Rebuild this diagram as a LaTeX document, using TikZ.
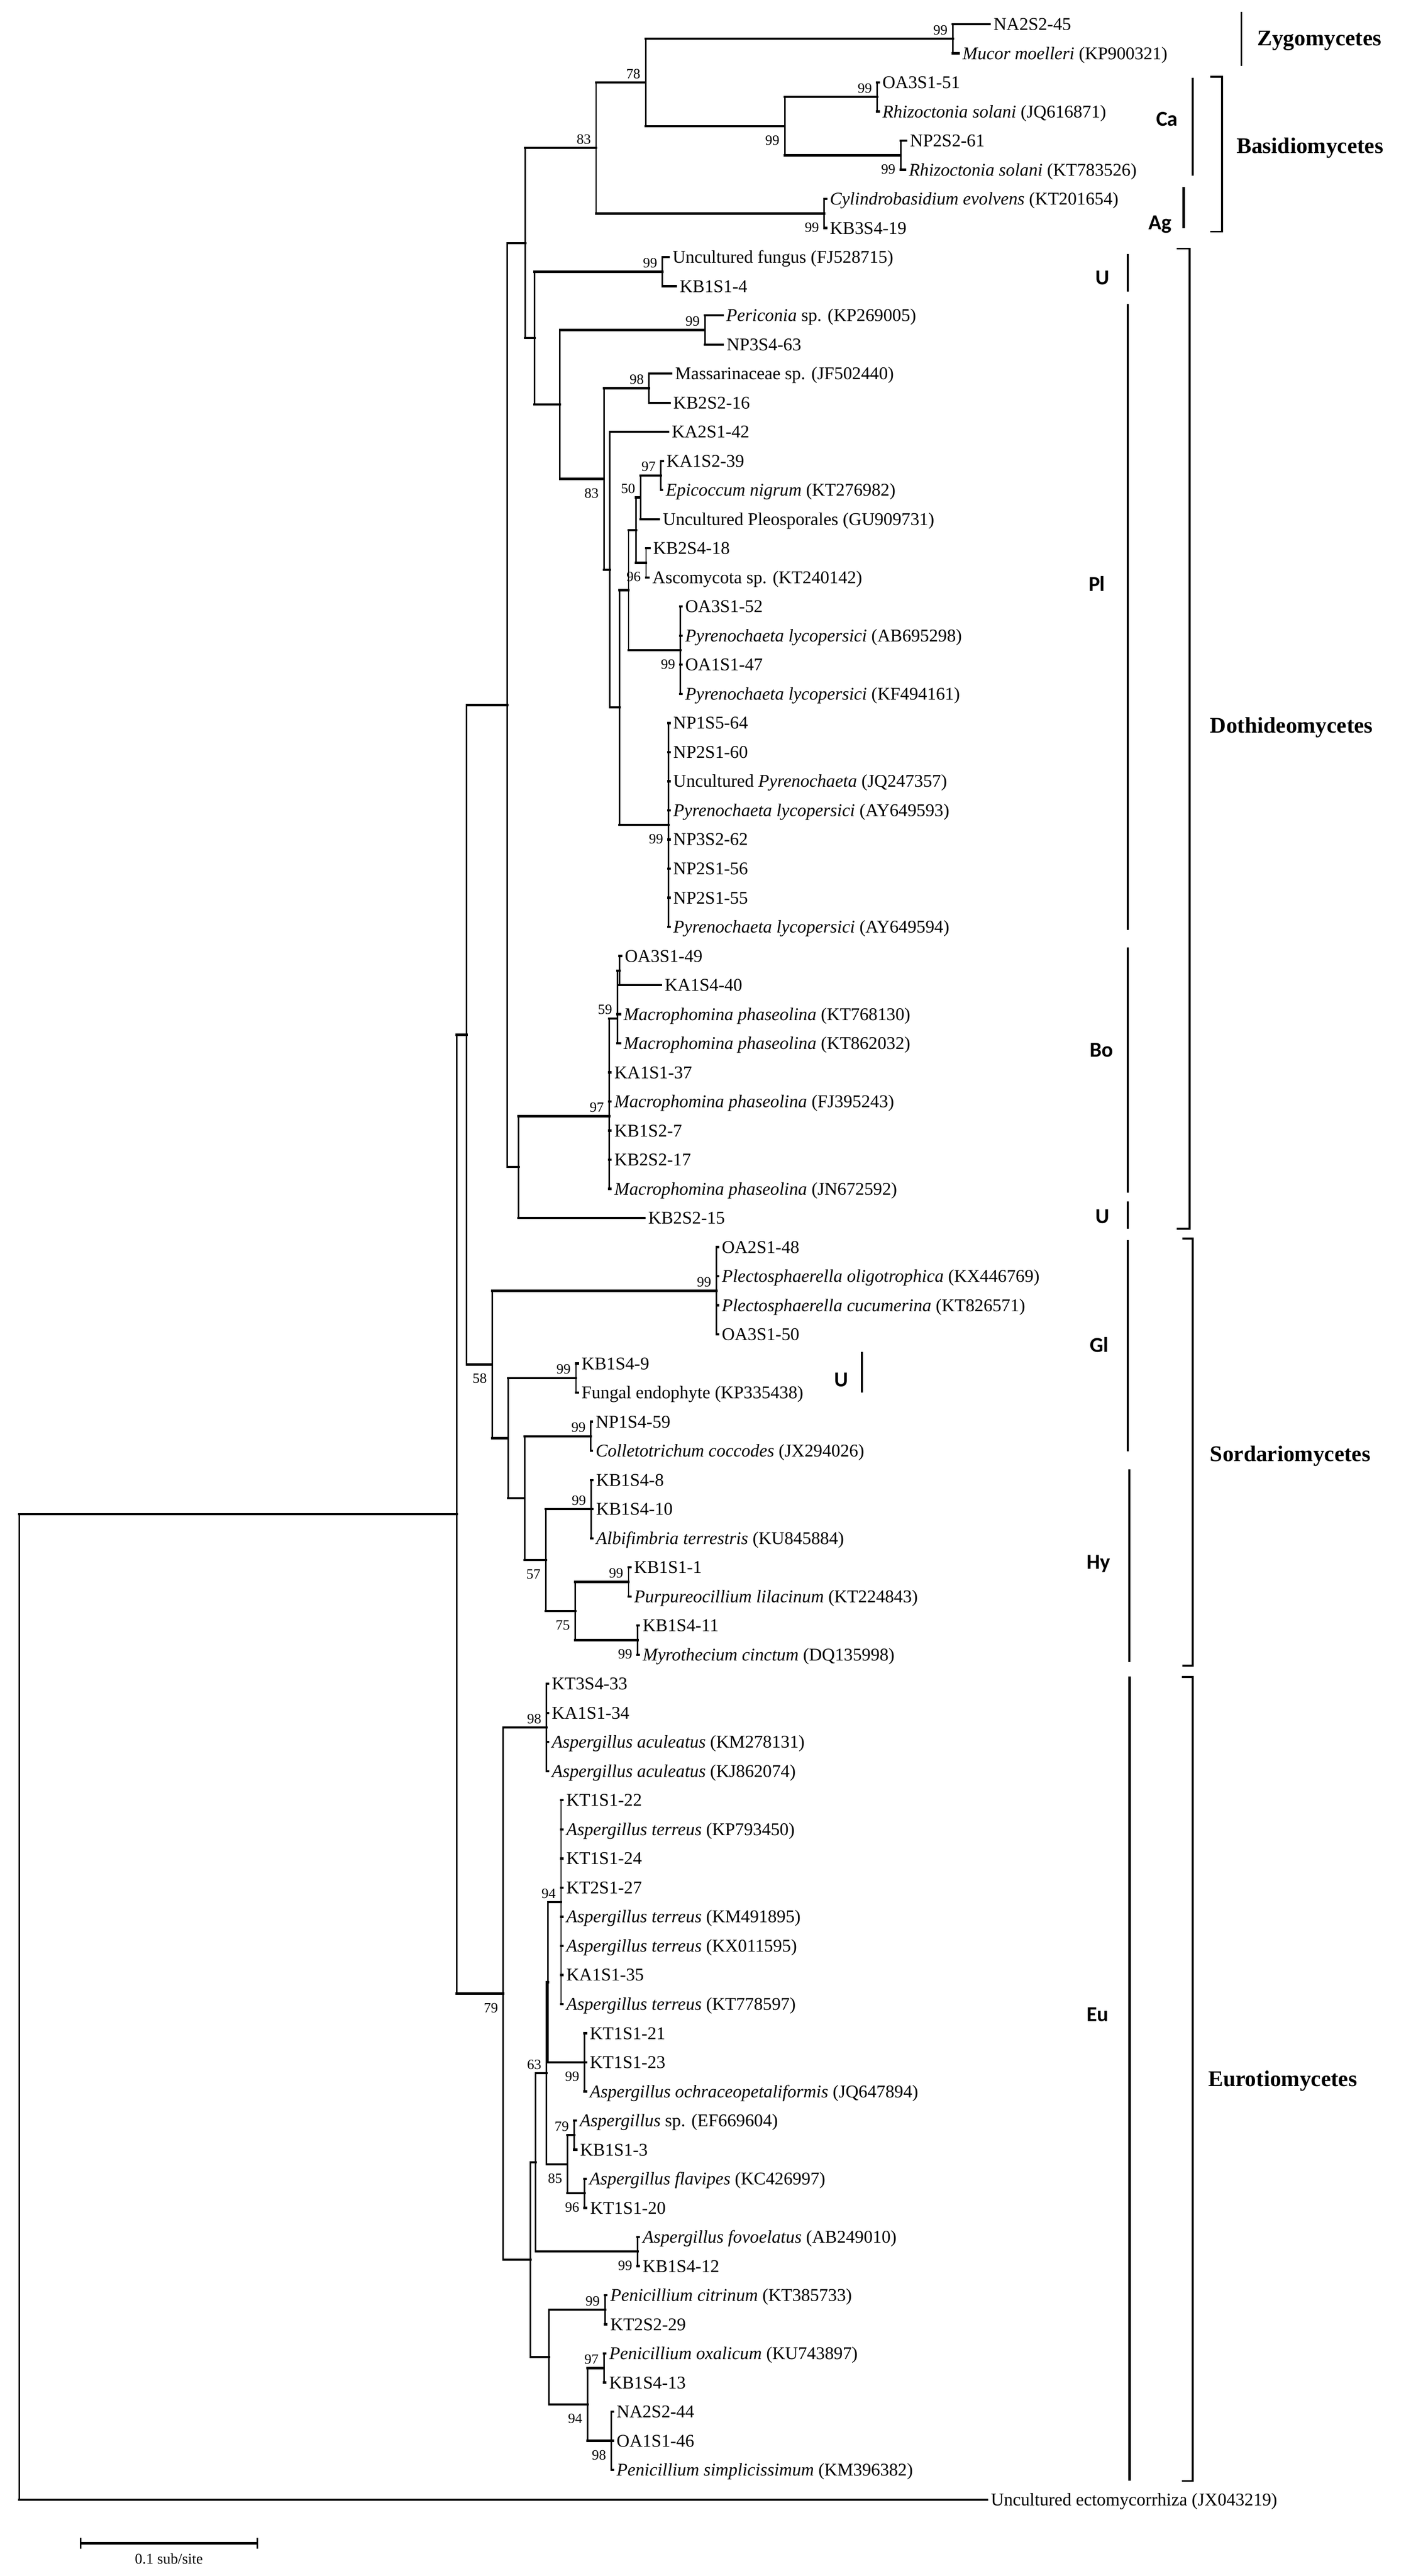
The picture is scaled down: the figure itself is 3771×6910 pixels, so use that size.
\documentclass[tikz,border=0pt]{standalone}
\usepackage{fontspec}
\setmainfont{Liberation Serif}
\newfontfamily\cfont{Carlito}
\usetikzlibrary{calc}
\tikzset{
  vert/.style={line width=4pt, line cap=rect},
  horiz/.style={line width=6pt, line cap=rect},
  leaf/.style={anchor=base west, inner sep=0pt, xshift=10pt, yshift=-16pt, font=\fontsize{48}{50}\selectfont},
  bsa/.style={anchor=east, inner sep=0pt, xshift=-14pt, yshift=23.5pt, font=\fontsize{38}{40}\selectfont},
  bsb/.style={anchor=east, inner sep=0pt, xshift=-14pt, yshift=-38pt, font=\fontsize{38}{40}\selectfont},
  cls/.style={anchor=base west, inner sep=0pt, yshift=-20pt, font=\fontsize{60}{62}\selectfont\bfseries},
  sub/.style={anchor=base west, inner sep=0pt, yshift=-18pt, font=\cfont\fontsize{57}{60}\selectfont\bfseries},
  cl/.style={line width=6pt},
  thincl/.style={line width=4pt},
  brk/.style={line width=5pt},
}
\newcommand\lf[4]{\coordinate (#1) at (#2,{-(65+(#3-1)*78.1)});\node[leaf] (#1t) at (#1) {#4};}
\newcommand\nd[4]{\path let \p1=(#3), \p2=(#4) in (#2pt,{0.5*\y1+0.5*\y2}) coordinate (#1);}
\newcommand\br[2]{\draw[vert] (#1) -- (#1 |- #2);\draw[horiz] (#1 |- #2) -- (#2);}
\newcommand\bsA[2]{\node[bsa] (b#1) at (#1) {#2};}
\newcommand\bsB[2]{\node[bsb] (b#1) at (#1) {#2};}
\begin{document}
\begin{tikzpicture}[x=1pt,y=1pt]
\useasboundingbox (0,0) rectangle (3771,-6910);
% ---------------- leaves
\lf{L1}{2655}{1}{NA2S2-45}
\lf{L2}{2572}{2}{\textit{Mucor moelleri} (KP900321)}
\lf{L3}{2357}{3}{OA3S1-51}
\lf{L4}{2357}{4}{\textit{Rhizoctonia solani} (JQ616871)}
\lf{L5}{2431}{5}{NP2S2-61}
\lf{L6}{2428}{6}{\textit{Rhizoctonia solani} (KT783526)}
\lf{L7}{2216}{7}{\textit{Cylindrobasidium evolvens} (KT201654)}
\lf{L8}{2216}{8}{KB3S4-19}
\lf{L9}{1794}{9}{Uncultured fungus (FJ528715)}
\lf{L10}{1813}{10}{KB1S1-4}
\lf{L11}{1938}{11}{\textit{Periconia} sp. (KP269005)}
\lf{L12}{1939}{12}{NP3S4-63}
\lf{L13}{1801}{13}{Massarinaceae sp. (JF502440)}
\lf{L14}{1796}{14}{KB2S2-16}
\lf{L15}{1792}{15}{KA2S1-42}
\lf{L16}{1778}{16}{KA1S2-39}
\lf{L17}{1776}{17}{\textit{Epicoccum nigrum} (KT276982)}
\lf{L18}{1768}{18}{Uncultured Pleosporales (GU909731)}
\lf{L19}{1742}{19}{KB2S4-18}
\lf{L20}{1740}{20}{Ascomycota sp. (KT240142)}
\lf{L21}{1828}{21}{OA3S1-52}
\lf{L22}{1828}{22}{\textit{Pyrenochaeta lycopersici} (AB695298)}
\lf{L23}{1828}{23}{OA1S1-47}
\lf{L24}{1828}{24}{\textit{Pyrenochaeta lycopersici} (KF494161)}
\lf{L25}{1796}{25}{NP1S5-64}
\lf{L26}{1796}{26}{NP2S1-60}
\lf{L27}{1796}{27}{Uncultured \textit{Pyrenochaeta} (JQ247357)}
\lf{L28}{1796}{28}{\textit{Pyrenochaeta lycopersici} (AY649593)}
\lf{L29}{1796}{29}{NP3S2-62}
\lf{L30}{1796}{30}{NP2S1-56}
\lf{L31}{1796}{31}{NP2S1-55}
\lf{L32}{1796}{32}{\textit{Pyrenochaeta lycopersici} (AY649594)}
\lf{L33}{1666}{33}{OA3S1-49}
\lf{L34}{1773}{34}{KA1S4-40}
\lf{L35}{1663}{35}{\textit{Macrophomina phaseolina} (KT768130)}
\lf{L36}{1663}{36}{\textit{Macrophomina phaseolina} (KT862032)}
\lf{L37}{1638}{37}{KA1S1-37}
\lf{L38}{1638}{38}{\textit{Macrophomina phaseolina} (FJ395243)}
\lf{L39}{1638}{39}{KB1S2-7}
\lf{L40}{1638}{40}{KB2S2-17}
\lf{L41}{1638}{41}{\textit{Macrophomina phaseolina} (JN672592)}
\lf{L42}{1729}{42}{KB2S2-15}
\lf{L43}{1926}{43}{OA2S1-48}
\lf{L44}{1926}{44}{\textit{Plectosphaerella oligotrophica} (KX446769)}
\lf{L45}{1926}{45}{\textit{Plectosphaerella cucumerina} (KT826571)}
\lf{L46}{1926}{46}{OA3S1-50}
\lf{L47}{1550}{47}{KB1S4-9}
\lf{L48}{1550}{48}{Fungal endophyte (KP335438)}
\lf{L49}{1588}{49}{NP1S4-59}
\lf{L50}{1588}{50}{\textit{Colletotrichum coccodes} (JX294026)}
\lf{L51}{1589}{51}{KB1S4-8}
\lf{L52}{1589}{52}{KB1S4-10}
\lf{L53}{1589}{53}{\textit{Albifimbria terrestris} (KU845884)}
\lf{L54}{1691}{54}{KB1S1-1}
\lf{L55}{1691}{55}{\textit{Purpureocillium lilacinum} (KT224843)}
\lf{L56}{1714}{56}{KB1S4-11}
\lf{L57}{1714}{57}{\textit{Myrothecium cinctum} (DQ135998)}
\lf{L58}{1470}{58}{KT3S4-33}
\lf{L59}{1470}{59}{KA1S1-34}
\lf{L60}{1470}{60}{\textit{Aspergillus aculeatus} (KM278131)}
\lf{L61}{1470}{61}{\textit{Aspergillus aculeatus} (KJ862074)}
\lf{L62}{1509}{62}{KT1S1-22}
\lf{L63}{1509}{63}{\textit{Aspergillus terreus} (KP793450)}
\lf{L64}{1509}{64}{KT1S1-24}
\lf{L65}{1509}{65}{KT2S1-27}
\lf{L66}{1509}{66}{\textit{Aspergillus terreus} (KM491895)}
\lf{L67}{1509}{67}{\textit{Aspergillus terreus} (KX011595)}
\lf{L68}{1509}{68}{KA1S1-35}
\lf{L69}{1509}{69}{\textit{Aspergillus terreus} (KT778597)}
\lf{L70}{1572}{70}{KT1S1-21}
\lf{L71}{1572}{71}{KT1S1-23}
\lf{L72}{1572}{72}{\textit{Aspergillus ochraceopetaliformis} (JQ647894)}
\lf{L73}{1545}{73}{\textit{Aspergillus} sp. (EF669604)}
\lf{L74}{1546}{74}{KB1S1-3}
\lf{L75}{1571}{75}{\textit{Aspergillus flavipes} (KC426997)}
\lf{L76}{1573}{76}{KT1S1-20}
\lf{L77}{1714}{77}{\textit{Aspergillus fovoelatus} (AB249010)}
\lf{L78}{1714}{78}{KB1S4-12}
\lf{L79}{1627}{79}{\textit{Penicillium citrinum} (KT385733)}
\lf{L80}{1627}{80}{KT2S2-29}
\lf{L81}{1624}{81}{\textit{Penicillium oxalicum} (KU743897)}
\lf{L82}{1624}{82}{KB1S4-13}
\lf{L83}{1644}{83}{NA2S2-44}
\lf{L84}{1644}{84}{OA1S1-46}
\lf{L85}{1644}{85}{\textit{Penicillium simplicissimum} (KM396382)}
\coordinate (L86) at (2648,-6705);
\node[leaf] (L86t) at (L86) {Uncultured ectomycorrhiza (JX043219)};
% ---------------- internal nodes
\nd{Zy}{2556}{L1}{L2}
\nd{CaA}{2353}{L3}{L4}
\nd{CaB}{2416}{L5}{L6}
\nd{Ca}{2105}{CaA}{CaB}
\nd{G}{1732}{Zy}{Ca}
\nd{Ag}{2211}{L7}{L8}
\nd{E}{1599}{G}{Ag}
\nd{Ua}{1777}{L9}{L10}
\nd{Peri}{1891}{L11}{L12}
\nd{Mass}{1741}{L13}{L14}
\nd{P}{1773}{L16}{L17}
\nd{O}{1718}{P}{L18}
\nd{Q}{1733}{L19}{L20}
\nd{N}{1706}{O}{Q}
\nd{PyA}{1825}{L21}{L24}
\nd{M}{1686}{N}{PyA}
\nd{PyB}{1793}{L25}{L32}
\nd{Ln}{1662}{M}{PyB}
\nd{J}{1636}{L15}{Ln}
\nd{I}{1620}{Mass}{J}
\nd{H}{1502}{Peri}{I}
\nd{F}{1434}{Ua}{H}
\nd{D}{1409}{E}{F}
\nd{BoC}{1662}{L33}{L34}
\coordinate (BoB) at (1656,-2732);
\coordinate (Bo) at (1634,-2994);
\nd{BoU}{1391}{Bo}{L42}
\nd{C}{1361}{D}{BoU}
\nd{Gl}{1922}{L43}{L46}
\nd{Ub}{1545}{L47}{L48}
\nd{Col}{1585}{L49}{L50}
\nd{Alb}{1586}{L51}{L53}
\nd{Pur}{1686}{L54}{L55}
\nd{MyB}{1710}{L56}{L57}
\nd{Myr}{1543}{Pur}{MyB}
\nd{Hy}{1464}{Alb}{Myr}
\nd{S3}{1407}{Col}{Hy}
\nd{S2}{1363}{Ub}{S3}
\nd{Sord}{1320}{Gl}{S2}
\nd{B}{1252}{C}{Sord}
\nd{Acu}{1466}{L58}{L61}
\nd{Ter}{1505}{L62}{L69}
\nd{Och}{1568}{L70}{L72}
\nd{X}{1470}{Ter}{Och}
\nd{Sp}{1540}{L73}{L74}
\nd{Fla}{1568}{L75}{L76}
\nd{SF}{1522}{Sp}{Fla}
\nd{EuD}{1466}{X}{SF}
\nd{Fov}{1710}{L77}{L78}
\nd{EuC}{1437}{EuD}{Fov}
\nd{Cit}{1623}{L79}{L80}
\nd{Oxa}{1620}{L81}{L82}
\nd{Sim}{1640}{L83}{L85}
\nd{PenB}{1576}{Oxa}{Sim}
\nd{Pen}{1473}{Cit}{PenB}
\nd{EuB}{1423}{EuC}{Pen}
\nd{Eu}{1350}{Acu}{EuB}
\nd{A}{1225}{B}{Eu}
\nd{R}{52}{A}{L86}
% ---------------- branches
\br{R}{A} \br{R}{L86}
\br{A}{B} \br{A}{Eu}
\br{B}{C} \br{B}{Sord}
\br{C}{D} \br{C}{BoU}
\br{D}{E} \br{D}{F}
\br{E}{G} \br{E}{Ag}
\br{G}{Zy} \br{G}{Ca}
\br{Zy}{L1} \br{Zy}{L2}
\br{Ca}{CaA} \br{Ca}{CaB}
\br{CaA}{L3} \br{CaA}{L4}
\br{CaB}{L5} \br{CaB}{L6}
\br{Ag}{L7} \br{Ag}{L8}
\br{F}{Ua} \br{F}{H}
\br{Ua}{L9} \br{Ua}{L10}
\br{H}{Peri} \br{H}{I}
\br{Peri}{L11} \br{Peri}{L12}
\br{I}{Mass} \br{I}{J}
\br{Mass}{L13} \br{Mass}{L14}
\br{J}{L15} \br{J}{Ln}
\br{Ln}{M} \br{Ln}{PyB}
\br{M}{N} \br{M}{PyA}
\br{N}{O} \br{N}{Q}
\br{O}{P} \br{O}{L18}
\br{P}{L16} \br{P}{L17}
\br{Q}{L19} \br{Q}{L20}
\foreach \k in {21,...,24} {\br{PyA}{L\k}}
\foreach \k in {25,...,32} {\br{PyB}{L\k}}
\br{BoU}{Bo} \br{BoU}{L42}
\br{Bo}{BoB}
\foreach \k in {37,...,41} {\br{Bo}{L\k}}
\br{BoB}{BoC} \br{BoB}{L35} \br{BoB}{L36}
\br{BoC}{L33} \br{BoC}{L34}
\br{Sord}{Gl} \br{Sord}{S2}
\foreach \k in {43,...,46} {\br{Gl}{L\k}}
\br{S2}{Ub} \br{S2}{S3}
\br{Ub}{L47} \br{Ub}{L48}
\br{S3}{Col} \br{S3}{Hy}
\br{Col}{L49} \br{Col}{L50}
\br{Hy}{Alb} \br{Hy}{Myr}
\foreach \k in {51,...,53} {\br{Alb}{L\k}}
\br{Myr}{Pur} \br{Myr}{MyB}
\br{Pur}{L54} \br{Pur}{L55}
\br{MyB}{L56} \br{MyB}{L57}
\br{Eu}{Acu} \br{Eu}{EuB}
\foreach \k in {58,...,61} {\br{Acu}{L\k}}
\br{EuB}{EuC} \br{EuB}{Pen}
\br{EuC}{EuD} \br{EuC}{Fov}
\br{EuD}{X} \br{EuD}{SF}
\br{X}{Ter} \br{X}{Och}
\foreach \k in {62,...,69} {\br{Ter}{L\k}}
\foreach \k in {70,...,72} {\br{Och}{L\k}}
\br{SF}{Sp} \br{SF}{Fla}
\br{Sp}{L73} \br{Sp}{L74}
\br{Fla}{L75} \br{Fla}{L76}
\br{Fov}{L77} \br{Fov}{L78}
\br{Pen}{Cit} \br{Pen}{PenB}
\br{Cit}{L79} \br{Cit}{L80}
\br{PenB}{Oxa} \br{PenB}{Sim}
\br{Oxa}{L81} \br{Oxa}{L82}
\foreach \k in {83,...,85} {\br{Sim}{L\k}}
% ---------------- bootstrap values
\bsA{E}{83} \bsA{G}{78} \bsA{Zy}{99} \bsA{CaA}{99} \bsA{Ua}{99}
\bsA{Peri}{99} \bsA{Mass}{98} \bsA{P}{97} \bsA{O}{50} \bsA{BoB}{59}
\bsA{Bo}{97} \bsA{Gl}{99} \bsA{Ub}{99} \bsA{Col}{99} \bsA{Alb}{99}
\bsA{Pur}{99} \bsA{Acu}{98} \bsA{Ter}{94} \bsA{EuD}{63} \bsA{Sp}{79}
\bsA{Cit}{99} \bsA{Oxa}{97}
\bsB{Ca}{99} \bsB{CaB}{99} \bsB{Ag}{99} \bsB{I}{83} \bsB{Q}{96}
\bsB{PyA}{99} \bsB{PyB}{99} \bsB{Sord}{58} \bsB{Hy}{57} \bsB{Myr}{75}
\bsB{MyB}{99} \bsB{Eu}{79} \bsB{Och}{99} \bsB{SF}{85} \bsB{Fla}{96}
\bsB{Fov}{99} \bsB{PenB}{94} \bsB{Sim}{98}
% ---------------- clade marks
\draw[thincl] (3330,-32) -- (3330,-177);
\node[cls] (zyg) at (3372,-103) {Zygomycetes};
\draw[brk] (3246,-206) -| (3278,-621) -- (3246,-621);
\node[cls] (bas) at (3317,-391) {Basidiomycetes};
\draw[cl] (3199,-208) -- (3199,-471);
\node[sub] (sCa) at (3101,-320) {Ca};
\draw[cl] (3175,-501) -- (3175,-612);
\node[sub] (sAg) at (3081,-598) {Ag};
\draw[cl] (3025,-681) -- (3025,-782);
\node[sub] (sU1) at (2939,-746) {U};
\draw[cl] (3025,-816) -- (3025,-2495);
\node[sub] (sPl) at (2920,-1568) {Pl};
\draw[brk] (3156,-667) -| (3191,-3296) -- (3156,-3296);
\node[cls] (dot) at (3246,-1946) {Dothideomycetes};
\draw[cl] (3025,-2541) -- (3025,-3199);
\node[sub] (sBo) at (2923,-2817) {Bo};
\draw[cl] (3025,-3223) -- (3025,-3296);
\node[sub] (sU2) at (2939,-3264) {U};
\draw[cl] (3025,-3327) -- (3025,-3893);
\node[sub] (sGl) at (2923,-3609) {Gl};
\draw[cl] (2312,-3626) -- (2312,-3735);
\node[sub] (sU3) at (2238,-3701) {U};
\draw[cl] (3029,-3941) -- (3029,-4458);
\node[sub] (sHy) at (2915,-4191) {Hy};
\draw[brk] (3172,-3322) -| (3199,-4468) -- (3172,-4468);
\node[cls] (sor) at (3246,-3900) {Sordariomycetes};
\draw[cl] (3030,-4497) -- (3030,-6654);
\node[sub] (sEu) at (2915,-5404) {Eu};
\draw[brk] (3170,-4498) -| (3199,-6655) -- (3170,-6655);
\node[cls] (eur) at (3241,-5576) {Eurotiomycetes};
% ---------------- scale bar
\coordinate (sb1) at (216,-6822);
\coordinate (sb2) at (690,-6822);
\draw[line width=6pt] (sb1) -- (sb2);
\draw[line width=4pt] ([yshift=15pt]sb1) -- ([yshift=-15pt]sb1);
\draw[line width=4pt] ([yshift=15pt]sb2) -- ([yshift=-15pt]sb2);
\node[inner sep=0pt, font=\fontsize{40}{42}\selectfont] (sbl) at (453,-6864) {0.1 sub/site};
\end{tikzpicture}
\end{document}
